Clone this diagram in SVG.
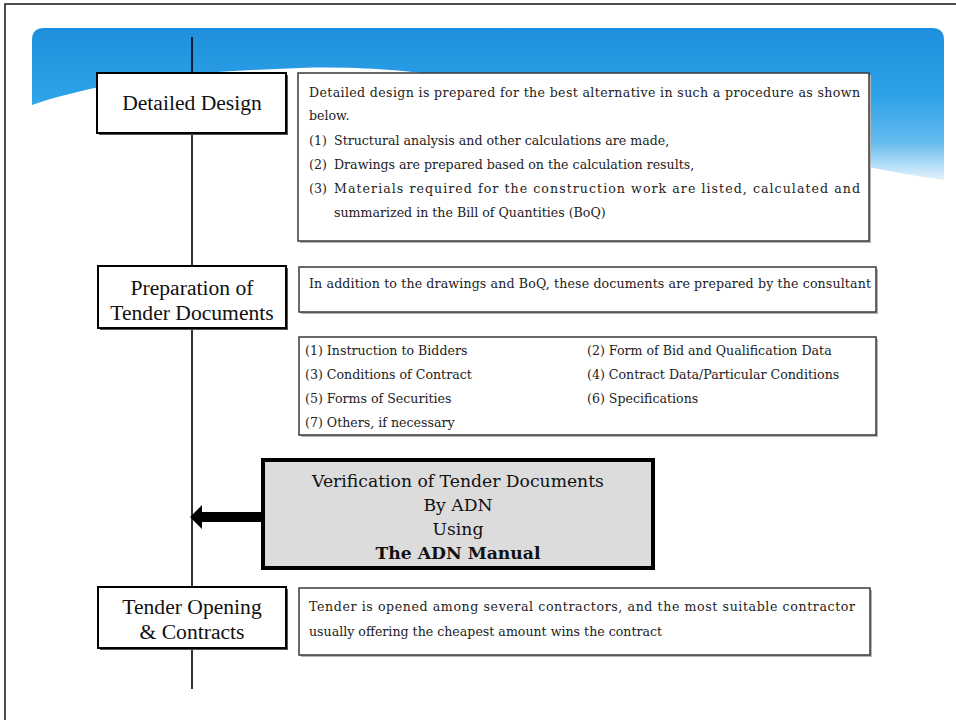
<svg xmlns="http://www.w3.org/2000/svg" width="956" height="720" viewBox="0 0 956 720">
  <defs>
    <linearGradient id="bandFill" x1="0" y1="28" x2="0" y2="180" gradientUnits="userSpaceOnUse">
      <stop offset="0" stop-color="#1f8fdd"/>
      <stop offset="0.45" stop-color="#2ea2e8"/>
      <stop offset="0.75" stop-color="#64bbee"/>
      <stop offset="1" stop-color="#e6f3fc"/>
    </linearGradient>
    <style>
      .label { font-family: "Liberation Serif", "Times New Roman", serif; font-size: 21.6px; fill: #111; text-anchor: middle; }
      .body { font-family: "DejaVu Serif", "Liberation Serif", serif; font-size: 12.6px; fill: #222; }
      .verify { font-family: "DejaVu Serif", "Liberation Serif", serif; font-size: 17.2px; fill: #111; text-anchor: middle; }
      .stepBox { fill: #ffffff; stroke: #000; stroke-width: 2; }
      .stepShadow { fill: #555; }
      .noteBox { fill: #ffffff; stroke: #3a3a3a; stroke-width: 1.5; }
      .noteShadow { fill: #b5b5b5; }
      .timeline { stroke: #000; stroke-width: 1.6; fill: none; }
    </style>
  </defs>

  <rect width="956" height="720" fill="#ffffff"/>
  <!-- page frame (top and left edges) -->
  <rect x="5" y="4" width="1000" height="1000" fill="none" stroke="#222" stroke-width="1.6"/>

  <!-- blue header band -->
  <path d="M32,40 Q32,28 44,28 L932,28 Q944,28 944,40 L944,180 C760,155 520,60 300,68 C180,72 100,82 32,105 Z" fill="url(#bandFill)"/>

  <!-- connectors -->
  <g id="connectors">
    <line class="timeline" x1="192" y1="37" x2="192" y2="689"/>
    <polygon points="263,512 202,512 202,505 190,517 202,529 202,522 263,522" fill="#000"/>
  </g>

  <g id="detailed-design">
    <rect class="stepShadow" x="99" y="75" width="189" height="60"/>
    <rect class="stepBox" x="97" y="73" width="189" height="60"/>
    <text class="label" x="192" y="110">Detailed Design</text>
  </g>

  <g id="detailed-design-notes">
    <rect class="noteShadow" x="300" y="75" width="571" height="168"/>
    <rect class="noteBox" x="298" y="73" width="571" height="168"/>
    <text class="body" x="309" y="97" textLength="551" lengthAdjust="spacing">Detailed design is prepared for the best alternative in such a procedure as shown</text>
    <text class="body" x="309" y="120">below.</text>
    <text class="body" x="309" y="145">(1)</text>
    <text class="body" x="334" y="145">Structural analysis and other calculations are made,</text>
    <text class="body" x="309" y="169">(2)</text>
    <text class="body" x="334" y="169">Drawings are prepared based on the calculation results,</text>
    <text class="body" x="309" y="193">(3)</text>
    <text class="body" x="334" y="193" textLength="526" lengthAdjust="spacing">Materials required for the construction work are listed, calculated and</text>
    <text class="body" x="334" y="217">summarized in the Bill of Quantities (BoQ)</text>
  </g>

  <g id="tender-documents">
    <rect class="stepShadow" x="100" y="268" width="188" height="62"/>
    <rect class="stepBox" x="98" y="266" width="188" height="62"/>
    <text class="label" x="192" y="295">Preparation of</text>
    <text class="label" x="192" y="320">Tender Documents</text>
  </g>

  <g id="tender-documents-notes">
    <rect class="noteShadow" x="301" y="269" width="577" height="45"/>
    <rect class="noteBox" x="299" y="267" width="577" height="45"/>
    <text class="body" x="309" y="288" textLength="562" lengthAdjust="spacing">In addition to the drawings and BoQ, these documents are prepared by the consultant</text>
  </g>

  <g id="tender-documents-list">
    <rect class="noteShadow" x="301" y="339" width="577" height="98"/>
    <rect class="noteBox" x="299" y="337" width="577" height="98"/>
    <text class="body" x="305" y="355">(1) Instruction to Bidders</text>
    <text class="body" x="587" y="355">(2) Form of Bid and Qualification Data</text>
    <text class="body" x="305" y="379">(3) Conditions of Contract</text>
    <text class="body" x="587" y="379">(4) Contract Data/Particular Conditions</text>
    <text class="body" x="305" y="403">(5) Forms of Securities</text>
    <text class="body" x="587" y="403">(6) Specifications</text>
    <text class="body" x="305" y="427">(7) Others, if necessary</text>
  </g>

  <g id="verification">
    <rect x="263" y="460" width="390" height="108" fill="#dcdcdc" stroke="#000" stroke-width="4"/>
    <text class="verify" x="458" y="487">Verification of Tender Documents</text>
    <text class="verify" x="458" y="511">By ADN</text>
    <text class="verify" x="458" y="535">Using</text>
    <text class="verify" x="458" y="559" font-weight="bold">The ADN Manual</text>
  </g>

  <g id="tender-opening">
    <rect class="stepShadow" x="100" y="589" width="188" height="61"/>
    <rect class="stepBox" x="98" y="587" width="188" height="61"/>
    <text class="label" x="192" y="614">Tender Opening</text>
    <text class="label" x="192" y="639">&amp; Contracts</text>
  </g>

  <g id="tender-opening-notes">
    <rect class="noteShadow" x="301" y="590" width="571" height="67"/>
    <rect class="noteBox" x="299" y="588" width="571" height="67"/>
    <text class="body" x="309" y="611" textLength="546" lengthAdjust="spacing">Tender is opened among several contractors, and the most suitable contractor</text>
    <text class="body" x="309" y="636">usually offering the cheapest amount wins the contract</text>
  </g>
</svg>
